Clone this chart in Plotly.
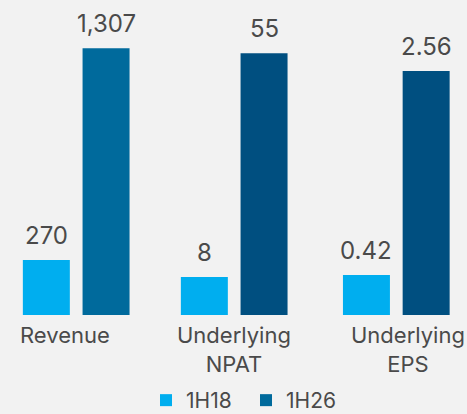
import plotly.graph_objects as go

# ---- data ----
categories = ["Revenue", "Underlying<br>NPAT", "Underlying<br>EPS"]
series_names = ["1H18", "1H26"]
values_1h18 = [270, 8, 0.42]
values_1h26 = [1307, 55, 2.56]
labels_1h18 = ["270", "8", "0.42"]
labels_1h26 = ["1,307", "55", "2.56"]

# ---- styles ----
W, H = 467, 414
BG = "#f2f2f2"
C18 = "#00aeef"
C26 = ["#006a9c", "#004f80", "#004f80"]
TXT = "#4a4a4a"
FONT = "Inter"

domains_px = [(6.2, 146.2), (164.2, 304.2), (326.3, 466.3)]
y_tops = [1543.7, 66.2, 3.305]
label_shift = [-11, 0, 12]
ydom = [(H - 315) / H, 1.0]

fig = go.Figure()
annotations = []
for i, cat in enumerate(categories):
    xa = "x" if i == 0 else f"x{i+1}"
    ya = "y" if i == 0 else f"y{i+1}"
    fig.add_trace(go.Bar(
        x=[cat], y=[values_1h18[i]], name=series_names[0],
        marker=dict(color=C18, line=dict(width=0)),
        xaxis=xa, yaxis=ya, legendgroup="a", showlegend=(i == 0),
        hoverinfo="skip"))
    fig.add_trace(go.Bar(
        x=[cat], y=[values_1h26[i]], name=series_names[1],
        marker=dict(color=C26[i], line=dict(width=0)),
        xaxis=xa, yaxis=ya, legendgroup="b", showlegend=(i == 0),
        hoverinfo="skip"))
    for j, (v, t) in enumerate([(values_1h18[i], labels_1h18[i]),
                                (values_1h26[i], labels_1h26[i])]):
        annotations.append(dict(
            x=cat, y=v, xref=xa, yref=ya, text=t, showarrow=False,
            xanchor="center", yanchor="bottom",
            xshift=-29.85 if j == 0 else 29.85, yshift=8,
            font=dict(family=FONT, size=24, color=TXT)))
    annotations.append(dict(
        x=0.5, y=0, xref=f"{xa} domain", yref=f"{ya} domain",
        text=cat, showarrow=False, xanchor="center", yanchor="top",
        xshift=label_shift[i], yshift=-5, align="center",
        font=dict(family=FONT, size=22, color=TXT)))

layout = dict(
    width=W, height=H, autosize=False,
    paper_bgcolor=BG, plot_bgcolor=BG,
    margin=dict(l=0, r=0, t=0, b=0, autoexpand=False),
    barmode="group", bargap=0.147, bargroupgap=0.213,
    showlegend=True,
    legend=dict(orientation="h", x=146 / W, xanchor="left",
                y=-7 / H, yanchor="bottom", entrywidth=55, entrywidthmode="pixels",
                font=dict(family=FONT, size=21, color=TXT),
                bgcolor="rgba(0,0,0,0)", itemclick=False, itemdoubleclick=False),
    annotations=annotations,
    font=dict(family=FONT),
)
for i in range(3):
    sfx = "" if i == 0 else str(i + 1)
    x0, x1 = domains_px[i]
    layout[f"xaxis{sfx}"] = dict(domain=[x0 / W, x1 / W], type="category",
                                 visible=False, fixedrange=True)
    layout[f"yaxis{sfx}"] = dict(domain=ydom, range=[0, y_tops[i]], visible=False,
                                 fixedrange=True)
    if i:
        layout[f"xaxis{sfx}"]["anchor"] = f"y{sfx}"
        layout[f"yaxis{sfx}"]["anchor"] = f"x{sfx}"
fig.update_layout(**layout)

page_fix = (
    "var s='margin:0;padding:0;overflow:hidden;background:%s;';"
    "document.documentElement.style.cssText=s;document.body.style.cssText=s;"
) % BG
fig.write_html(
    "out.html",
    config={"displayModeBar": False, "responsive": False},
    post_script=page_fix,
)
